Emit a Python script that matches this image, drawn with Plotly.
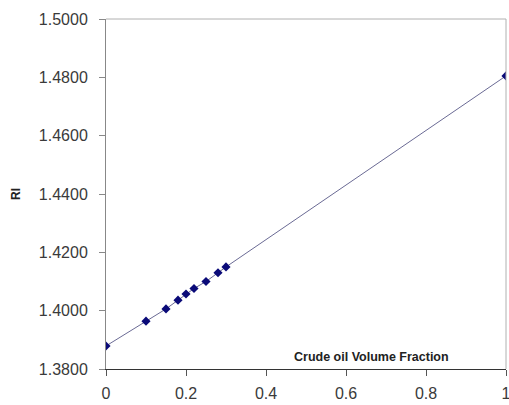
import plotly.graph_objects as go

x_frac = [0, 0.1, 0.15, 0.18, 0.2, 0.22, 0.25, 0.28, 0.3, 1.0]
ri_vals = [1.3879, 1.3964, 1.4006, 1.4036, 1.4057, 1.4076, 1.4100, 1.4130, 1.4150, 1.4805]
x_ticks = [0, 0.2, 0.4, 0.6, 0.8, 1]
x_ticklabels = ["0", "0.2", "0.4", "0.6", "0.8", "1"]
y_ticks = [1.38, 1.40, 1.42, 1.44, 1.46, 1.48, 1.50]

fig = go.Figure()
fig.add_trace(go.Scatter(
    x=x_frac, y=ri_vals, mode="lines+markers",
    line=dict(color="#6a6a94", width=1),
    marker=dict(symbol="diamond", size=7, color="#0a0a78"),
    showlegend=False,
))

fig.update_layout(
    width=509, height=405,
    margin=dict(l=106, r=3, t=19, b=36),
    paper_bgcolor="white", plot_bgcolor="white",
    font=dict(family="Liberation Sans, Arial", size=16, color="#3a3a3a"),
    xaxis=dict(range=[0, 1], tickvals=x_ticks, ticktext=x_ticklabels, automargin=False,
               showgrid=False, zeroline=False, showline=True, linecolor="#333333",
               linewidth=1, ticks="outside", ticklen=6, tickcolor="#555555",
               ticklabelstandoff=4, ticklabeloverflow="allow"),
    yaxis=dict(range=[1.38, 1.50], tickvals=y_ticks, tickformat=".4f", automargin=False,
               showgrid=False, zeroline=False, showline=True, linecolor="#888888",
               linewidth=1, ticks="outside", ticklen=6, tickcolor="#888888",
               ticklabelstandoff=8,
               title=dict(text="<b>RI</b>", font=dict(size=12, color="#222222"), standoff=15)),
    shapes=[
        dict(type="line", xref="paper", yref="paper", x0=0, x1=1, y0=1, y1=1,
             line=dict(color="#b0b0b0", width=1)),
        dict(type="line", xref="paper", yref="paper", x0=1, x1=1, y0=0, y1=1,
             line=dict(color="#b0b0b0", width=1)),
    ],
    annotations=[dict(text="<b>Crude oil Volume Fraction</b>", x=0.663, y=1.3842,
                      xref="x", yref="y", showarrow=False,
                      font=dict(size=12.5, color="#222222"))],
)

fig.write_html("out.html")
